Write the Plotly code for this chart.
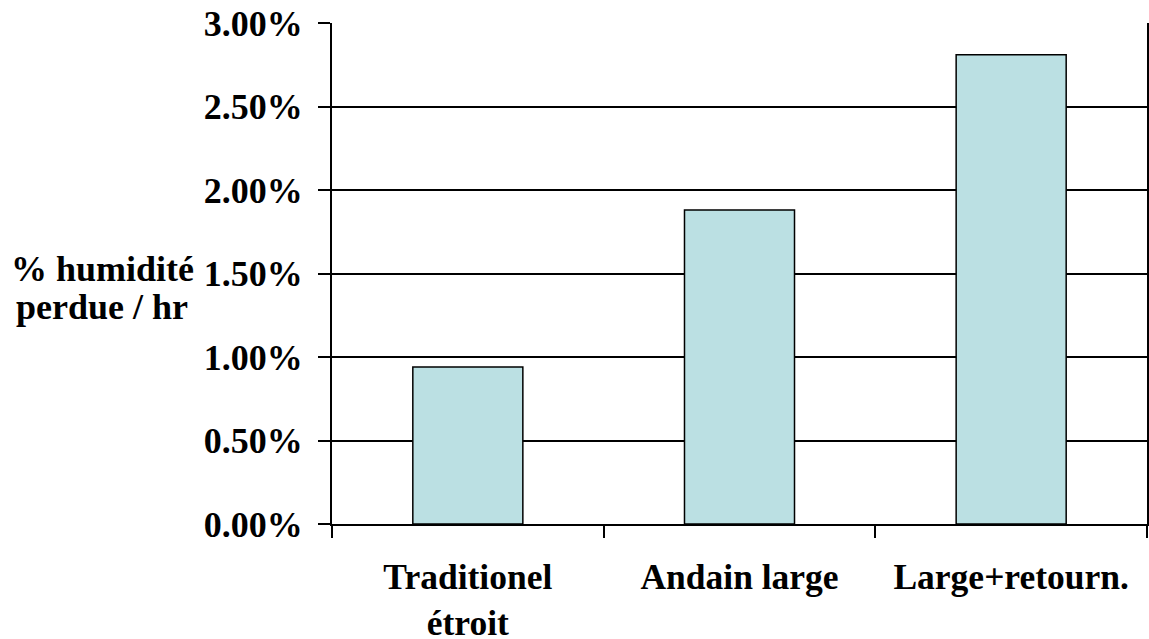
import plotly.graph_objects as go

categories = ["Traditionel<br>étroit", "Andain large", "Large+retourn."]
values = [0.0094, 0.0188, 0.0281]
y_ticks = [0, 0.005, 0.01, 0.015, 0.02, 0.025, 0.03]
y_title_lines = ["% humidité", "perdue / hr"]

FAMILY = '"Liberation Serif", serif'
YFONT = dict(family=FAMILY, size=36, color="black", weight="bold")
XFONT = dict(family=FAMILY, size=35.5, color="black", weight="bold")

fig = go.Figure(go.Bar(
    x=categories, y=values,
    marker=dict(color="#BBE0E3", line=dict(color="black", width=1.5)),
))

fig.update_layout(
    width=1149, height=639,
    margin=dict(l=332, r=2, t=23, b=115, autoexpand=False),
    paper_bgcolor="white", plot_bgcolor="white",
    bargap=0.595,
    showlegend=False,
    font=YFONT,
)
fig.update_xaxes(
    automargin=False,
    showline=True, linecolor="black", linewidth=2,
    ticks="outside", tickson="boundaries", ticklen=12, tickwidth=2, tickcolor="black",
    showgrid=False, ticklabelstandoff=20, tickfont=XFONT,
)
fig.update_yaxes(
    automargin=False,
    range=[0, 0.03], tickvals=y_ticks, tickformat=".2%",
    showline=True, linecolor="black", linewidth=2, mirror=True,
    showgrid=True, gridcolor="black", gridwidth=1.5, zeroline=False,
    ticks="outside", ticklen=12, tickwidth=1.5, tickcolor="black",
    ticklabelstandoff=8, tickfont=YFONT,
)
for line, ypos in zip(y_title_lines, [0.509, 0.433]):
    fig.add_annotation(
        text=line, xref="paper", yref="paper", x=-0.2822, y=ypos,
        xanchor="center", yanchor="middle", showarrow=False, align="center",
        font=YFONT,
    )
fig.write_html("out.html", config={"displayModeBar": False},
               post_script="document.body.style.margin='0px';document.body.style.overflow='hidden';")
